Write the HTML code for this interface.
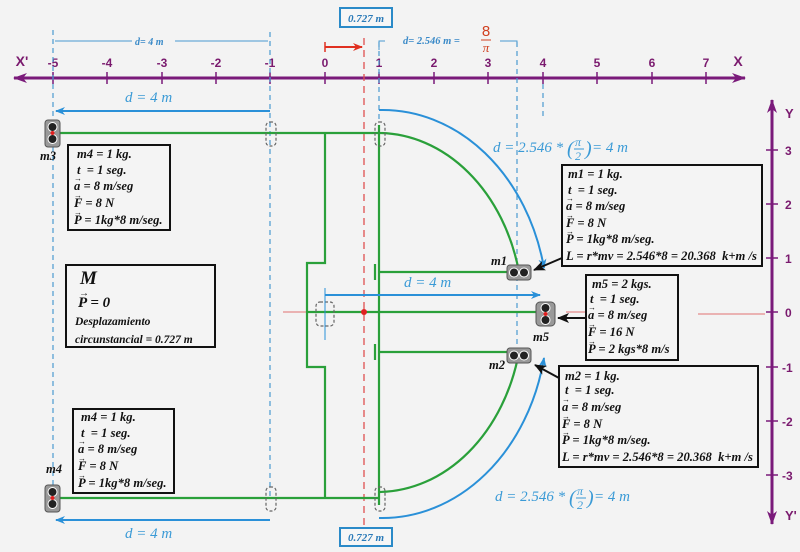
<!DOCTYPE html>
<html><head><meta charset="utf-8"><style>
html,body{margin:0;padding:0;background:#f3f3f3;}
svg{display:block}
.t{font-family:"Liberation Serif",serif;font-weight:bold;font-style:italic;font-size:12.6px;fill:#111}
.v{font-family:"Liberation Sans",sans-serif;font-size:8px;fill:#111}
.ax{font-family:"Liberation Sans",sans-serif;font-weight:bold;font-size:12px;fill:#7a1a6e}
.bl{font-family:"Liberation Serif",serif;font-style:italic;font-size:15px;fill:#3a9ad6}
</style></head><body>
<svg width="800" height="552" viewBox="0 0 800 552" xmlns="http://www.w3.org/2000/svg">
<defs>
<marker id="ab" markerWidth="10" markerHeight="8" refX="9" refY="4" orient="auto" markerUnits="userSpaceOnUse"><path d="M0,0 L10,4 L0,8 L3,4Z" fill="#2a90d8"/></marker>
<marker id="ap" markerWidth="14" markerHeight="10" refX="13" refY="5" orient="auto" markerUnits="userSpaceOnUse"><path d="M0,0 L14,5 L0,10 L4,5Z" fill="#7a1a7a"/></marker>
<marker id="ar" markerWidth="10" markerHeight="8" refX="9" refY="4" orient="auto" markerUnits="userSpaceOnUse"><path d="M0,0 L10,4 L0,8 L3,4Z" fill="#e03020"/></marker>
<marker id="ak" markerWidth="12" markerHeight="10" refX="11" refY="5" orient="auto" markerUnits="userSpaceOnUse"><path d="M0,0 L12,5 L0,10 L3,5Z" fill="#111"/></marker>
</defs>
<rect width="800" height="552" fill="#f3f3f3"/>
<line x1="745" y1="78" x2="14" y2="78" stroke="#7a1a7a" stroke-width="3" marker-end="url(#ap)"/>
<line x1="14" y1="78" x2="745" y2="78" stroke="#7a1a7a" stroke-width="3" marker-end="url(#ap)"/>
<g stroke="#7a1a7a" stroke-width="1.5">
<line x1="53" y1="72" x2="53" y2="84"/><line x1="107" y1="72" x2="107" y2="84"/><line x1="162" y1="72" x2="162" y2="84"/><line x1="216" y1="72" x2="216" y2="84"/><line x1="270" y1="72" x2="270" y2="84"/><line x1="325" y1="72" x2="325" y2="84"/><line x1="379" y1="72" x2="379" y2="84"/><line x1="434" y1="72" x2="434" y2="84"/><line x1="488" y1="72" x2="488" y2="84"/><line x1="543" y1="72" x2="543" y2="84"/><line x1="597" y1="72" x2="597" y2="84"/><line x1="652" y1="72" x2="652" y2="84"/><line x1="706" y1="72" x2="706" y2="84"/>
</g>
<g class="ax" text-anchor="middle">
<text x="53" y="67">-5</text><text x="107" y="67">-4</text><text x="162" y="67">-3</text><text x="216" y="67">-2</text><text x="270" y="67">-1</text><text x="325" y="67">0</text><text x="379" y="67">1</text><text x="434" y="67">2</text><text x="488" y="67">3</text><text x="543" y="67">4</text><text x="597" y="67">5</text><text x="652" y="67">6</text><text x="706" y="67">7</text>
<text x="22" y="66" font-size="14">X'</text><text x="738" y="66" font-size="14">X</text>
</g>
<line x1="772" y1="100" x2="772" y2="524" stroke="#7a1a7a" stroke-width="3" marker-end="url(#ap)"/>
<line x1="772" y1="524" x2="772" y2="100" stroke="#7a1a7a" stroke-width="3" marker-end="url(#ap)"/>
<g stroke="#7a1a7a" stroke-width="1.5">
<line x1="766" y1="150" x2="778" y2="150"/><line x1="766" y1="204" x2="778" y2="204"/><line x1="766" y1="258" x2="778" y2="258"/><line x1="766" y1="312" x2="778" y2="312"/><line x1="766" y1="367" x2="778" y2="367"/><line x1="766" y1="421" x2="778" y2="421"/><line x1="766" y1="475" x2="778" y2="475"/>
</g>
<g class="ax" fill="#8a2030">
<text x="785" y="155">3</text><text x="785" y="209">2</text><text x="785" y="263">1</text><text x="785" y="317">0</text><text x="782" y="372">-1</text><text x="782" y="426">-2</text><text x="782" y="480">-3</text>
<text x="785" y="118" font-size="13">Y</text><text x="785" y="520" font-size="13">Y'</text>
</g>
<g stroke="#4a9ad0" stroke-width="1.2" stroke-dasharray="5,4" fill="none">
<line x1="53" y1="30" x2="53" y2="500"/><line x1="270" y1="32" x2="270" y2="500"/>
<line x1="379" y1="42" x2="379" y2="120"/><line x1="517" y1="42" x2="517" y2="360"/><line x1="543" y1="84" x2="543" y2="120"/>
</g>
<g stroke="#4a9ad0" stroke-width="1" fill="none">
<line x1="55" y1="41" x2="132" y2="41"/><line x1="175" y1="41" x2="268" y2="41"/>
<polyline points="379,50 379,41 385,41"/><polyline points="500,41 517,41 517,46"/>
</g>
<text x="135" y="45" class="t" style="fill:#3a8ac8;font-size:10px">d= 4 m</text>
<text x="403" y="44" class="t" style="fill:#3a8ac8;font-size:10.5px">d= 2.546 m =</text>
<text x="486" y="36" font-family="Liberation Sans" font-size="15" fill="#d04020" text-anchor="middle">8</text>
<line x1="481" y1="40" x2="491" y2="40" stroke="#d04020"/>
<text x="486" y="52" font-family="Liberation Serif" font-style="italic" font-size="13" fill="#d04020" text-anchor="middle">π</text>
<rect x="340" y="8" width="52" height="19" fill="#f6f6f6" stroke="#2a8ac8" stroke-width="2"/>
<text x="366" y="22" class="t" text-anchor="middle" style="fill:#2a7ab8;font-size:11px">0.727 m</text>
<rect x="340" y="528" width="52" height="18" fill="#f6f6f6" stroke="#2a8ac8" stroke-width="2"/>
<text x="366" y="541" class="t" text-anchor="middle" style="fill:#2a7ab8;font-size:11px">0.727 m</text>
<line x1="325" y1="47" x2="362" y2="47" stroke="#e03020" stroke-width="2" marker-end="url(#ar)"/>
<line x1="325" y1="42" x2="325" y2="52" stroke="#e03020" stroke-width="1.5"/>
<line x1="364" y1="38" x2="364" y2="530" stroke="#e05050" stroke-width="1.3" stroke-dasharray="7,5"/>
<line x1="283" y1="312" x2="307" y2="312" stroke="#e07070" stroke-width="1"/>
<line x1="566" y1="312" x2="586" y2="312" stroke="#e07070" stroke-width="1"/>
<line x1="698" y1="314" x2="765" y2="314" stroke="#e07070" stroke-width="1"/>
<g stroke="#2aa03a" stroke-width="2.2" fill="none">
<line x1="53" y1="133" x2="379" y2="133"/>
<line x1="53" y1="498" x2="379" y2="498"/>
<polyline points="325,133 325,263 307,263 307,367 325,367 325,498"/>
<line x1="379" y1="125" x2="379" y2="505"/>
<path d="M379,133 A145,180 0 0 1 519,272"/>
<path d="M519,352 A145,180 0 0 1 379,492"/>
<line x1="379" y1="272" x2="519" y2="272"/><line x1="375" y1="264" x2="375" y2="280"/>
<line x1="379" y1="352" x2="519" y2="352"/><line x1="375" y1="344" x2="375" y2="360"/>
<line x1="307" y1="312" x2="545" y2="312"/>
</g>
<circle cx="364" cy="312" r="3" fill="#e02020"/>
<g stroke="#666" stroke-width="1.2" stroke-dasharray="3,2" fill="none">
<rect x="266" y="122" width="10" height="24" rx="4"/><rect x="375" y="122" width="10" height="24" rx="4"/>
<rect x="266" y="487" width="10" height="24" rx="4"/><rect x="375" y="487" width="10" height="24" rx="4"/>
<rect x="316" y="302" width="18" height="24" rx="4"/>
</g>
<g stroke="#2a90d8" stroke-width="2" fill="none">
<line x1="270" y1="111" x2="56" y2="111" marker-end="url(#ab)"/>
<line x1="270" y1="520" x2="56" y2="520" marker-end="url(#ab)"/>
<line x1="325" y1="295" x2="540" y2="295" marker-end="url(#ab)"/>
<line x1="325" y1="288" x2="325" y2="340" stroke-width="1"/>
<path d="M379,110 A165,200 0 0 1 544,268" marker-end="url(#ab)"/>
<path d="M379,518 A165,200 0 0 0 544,358" marker-end="url(#ab)"/>
</g>
<text x="125" y="102" class="bl">d = 4 m</text>
<text x="125" y="538" class="bl">d = 4 m</text>
<text x="404" y="287" class="bl">d = 4 m</text>
<g class="bl">
<text x="493" y="152">d = 2.546 *</text><text x="567" y="155" font-size="20">(</text><text x="575" y="146" font-size="12">π</text><line x1="574" y1="149" x2="584" y2="149" stroke="#3a9ad6"/><text x="575" y="160" font-size="12">2</text><text x="585" y="155" font-size="20">)</text><text x="592" y="152"> = 4 m</text>
<text x="495" y="501">d = 2.546 *</text><text x="569" y="504" font-size="20">(</text><text x="577" y="495" font-size="12">π</text><line x1="576" y1="498" x2="586" y2="498" stroke="#3a9ad6"/><text x="577" y="509" font-size="12">2</text><text x="587" y="504" font-size="20">)</text><text x="594" y="501"> = 4 m</text>
</g>
<g>
<rect x="45" y="120" width="15" height="27" rx="3" fill="#999" stroke="#555"/>
<circle cx="52.5" cy="127" r="4.5" fill="#222" stroke="#fff"/><circle cx="52.5" cy="139" r="4.5" fill="#222" stroke="#fff"/><circle cx="52.5" cy="133" r="2" fill="#e02020"/>
<rect x="45" y="485" width="15" height="27" rx="3" fill="#999" stroke="#555"/>
<circle cx="52.5" cy="492" r="4.5" fill="#222" stroke="#fff"/><circle cx="52.5" cy="504" r="4.5" fill="#222" stroke="#fff"/><circle cx="52.5" cy="498" r="2" fill="#e02020"/>
<rect x="536" y="302" width="19" height="24" rx="4" fill="#999" stroke="#555"/>
<circle cx="545.5" cy="308" r="4.5" fill="#222" stroke="#fff"/><circle cx="545.5" cy="320" r="4.5" fill="#222" stroke="#fff"/><circle cx="545.5" cy="314" r="2" fill="#e02020"/>
<rect x="507" y="265" width="24" height="15" rx="3" fill="#999" stroke="#555"/>
<circle cx="514" cy="272.5" r="4.5" fill="#222" stroke="#fff"/><circle cx="524" cy="272.5" r="4.5" fill="#222" stroke="#fff"/>
<rect x="507" y="348" width="24" height="15" rx="3" fill="#999" stroke="#555"/>
<circle cx="514" cy="355.5" r="4.5" fill="#222" stroke="#fff"/><circle cx="524" cy="355.5" r="4.5" fill="#222" stroke="#fff"/>
</g>
<text x="40" y="160" class="t">m3</text>
<text x="46" y="473" class="t">m4</text>
<text x="491" y="265" class="t">m1</text>
<text x="533" y="341" class="t">m5</text>
<text x="489" y="369" class="t">m2</text>
<g stroke="#111" stroke-width="2">
<line x1="562" y1="258" x2="534" y2="270" marker-end="url(#ak)"/>
<line x1="586" y1="318" x2="558" y2="318" marker-end="url(#ak)"/>
<line x1="559" y1="378" x2="535" y2="365" marker-end="url(#ak)"/>
</g>
<g fill="#f4f4f4" stroke="#111" stroke-width="2">
<rect x="68" y="145" width="102" height="85"/>
<rect x="66" y="265" width="149" height="82"/>
<rect x="73" y="409" width="101" height="84"/>
<rect x="562" y="165" width="200" height="101"/>
<rect x="586" y="275" width="92" height="85"/>
<rect x="559" y="366" width="199" height="101"/>
</g>
<g class="t">
<text x="77" y="158">m4 = 1 kg.</text><text x="77" y="174">t&#160; = 1 seg.</text><text x="74" y="190">a = 8 m/seg</text><text x="74" y="207">F = 8 N</text><text x="74" y="224">P = 1kg*8 m/seg.</text>
<text x="80" y="284" style="font-size:19px">M</text><text x="78" y="307" style="font-size:15px">P = 0</text>
<text x="75" y="325" style="font-size:11.5px">Desplazamiento</text><text x="75" y="343" style="font-size:11.5px">circunstancial = 0.727 m</text>
<text x="81" y="421">m4 = 1 kg.</text><text x="81" y="437">t&#160; = 1 seg.</text><text x="78" y="453">a = 8 m/seg</text><text x="78" y="470">F = 8 N</text><text x="78" y="487">P = 1kg*8 m/seg.</text>
<text x="568" y="178">m1 = 1 kg.</text><text x="568" y="194">t&#160; = 1 seg.</text><text x="566" y="210">a = 8 m/seg</text><text x="566" y="227">F = 8 N</text><text x="566" y="243">P = 1kg*8 m/seg.</text><text x="566" y="260">L = r*mv = 2.546*8 = 20.368&#160; k+m /s</text>
<text x="592" y="288">m5 = 2 kgs.</text><text x="590" y="303">t&#160; = 1 seg.</text><text x="588" y="319">a = 8 m/seg</text><text x="588" y="336">F = 16 N</text><text x="588" y="353">P = 2 kgs*8 m/s</text>
<text x="565" y="380">m2 = 1 kg.</text><text x="565" y="394">t&#160; = 1 seg.</text><text x="562" y="411">a = 8 m/seg</text><text x="562" y="428">F = 8 N</text><text x="562" y="444">P = 1kg*8 m/seg.</text><text x="562" y="461">L = r*mv = 2.546*8 = 20.368&#160; k+m /s</text>
</g>
<g class="v">
<text x="74" y="181">→</text><text x="74" y="198">→</text><text x="74" y="215">→</text>
<text x="79" y="296" font-size="10">→</text>
<text x="78" y="444">→</text><text x="78" y="461">→</text><text x="78" y="478">→</text>
<text x="566" y="201">→</text><text x="566" y="218">→</text><text x="566" y="234">→</text>
<text x="588" y="310">→</text><text x="588" y="327">→</text><text x="588" y="344">→</text>
<text x="562" y="402">→</text><text x="562" y="419">→</text><text x="562" y="435">→</text>
</g>
</svg>
</body></html>
